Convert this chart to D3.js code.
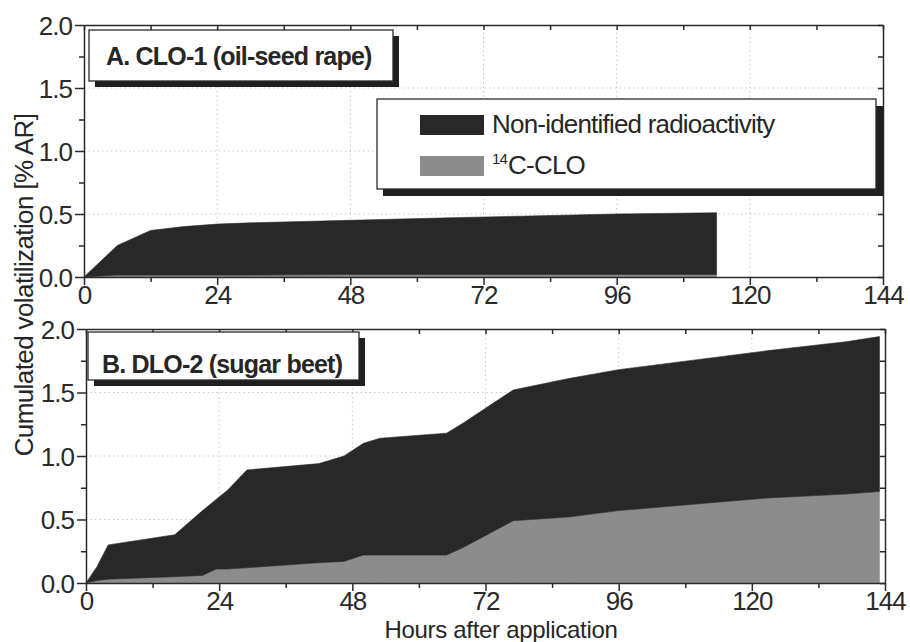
<!DOCTYPE html>
<html>
<head>
<meta charset="utf-8">
<script src="https://cdn.jsdelivr.net/npm/d3@7"></script>
<style>
  html, body { margin: 0; padding: 0; background: #fff; }
  svg { display: block; font-family: "Liberation Sans", Arial, Helvetica, sans-serif; }
</style>
</head>
<body>
<svg id="chart" width="910" height="642"></svg>
<script>
// Sampling times (hours after application) and cumulated volatilization (% AR)
const hoursA = [0, 6, 12, 18, 24, 30, 48, 66, 96, 114];
const cloA = [0, 0.015, 0.015, 0.015, 0.015, 0.015, 0.02, 0.02, 0.02, 0.02];
const nonIdA = [0, 0.235, 0.355, 0.385, 0.405, 0.415, 0.43, 0.45, 0.48, 0.49];

const hoursB = [0, 2, 4, 16, 21, 23.5, 25.5, 29, 42, 46.5, 50, 53, 65, 68, 77, 87, 96, 123, 137, 143];
const cloB = [0, 0.02, 0.03, 0.05, 0.06, 0.11, 0.11, 0.12, 0.16, 0.17, 0.22, 0.22, 0.22, 0.28, 0.49, 0.52, 0.57, 0.67, 0.70, 0.72];
const nonIdB = [0, 0.11, 0.27, 0.33, 0.51, 0.55, 0.62, 0.77, 0.78, 0.83, 0.88, 0.92, 0.96, 0.98, 1.03, 1.09, 1.11, 1.16, 1.20, 1.22];

const xTickValues = [0, 24, 48, 72, 96, 120, 144];
const xMinorValues = [12, 36, 60, 84, 108, 132];
const yTickValues = [0, 0.5, 1.0, 1.5, 2.0];
const yMinorValues = [0.25, 0.75, 1.25, 1.75];

const panelTitles = ["A. CLO-1 (oil-seed rape)", "B. DLO-2 (sugar beet)"];
const seriesKeys = ["clo", "nonId"];
const legendLabels = ["Non-identified radioactivity", "C-CLO"];
const legendSup = "14";
const xAxisTitle = "Hours after application";
const yAxisTitle = "Cumulated volatilization [% AR]";

const colors = { clo: "#8c8c8c", nonId: "#282828" };
const inkColor = "#2a2a2a";

const svg = d3.select("#chart");

const panels = [
  { hours: hoursA, clo: cloA, nonId: nonIdA, title: panelTitles[0],
    x0: 84, x1: 883, y0: 277, y1: 25,
    titleBox: { x: 89, y: 30, w: 304, h: 51, tx: 106, ty: 65 } },
  { hours: hoursB, clo: cloB, nonId: nonIdB, title: panelTitles[1],
    x0: 86, x1: 885, y0: 583, y1: 329,
    titleBox: { x: 88, y: 332, w: 271, h: 48, tx: 102, ty: 373 } }
];

const stack = d3.stack().keys(seriesKeys);

panels.forEach((p, i) => {
  const x = d3.scaleLinear().domain([0, 144]).range([p.x0, p.x1]);
  const y = d3.scaleLinear().domain([0, 2]).range([p.y0, p.y1]);
  const g = svg.append("g");

  // dotted grid at major ticks
  g.append("g").selectAll("line.gy")
    .data(yTickValues.filter(v => v > 0 && v < 2))
    .join("line")
    .attr("x1", p.x0).attr("x2", p.x1)
    .attr("y1", d => y(d)).attr("y2", d => y(d))
    .attr("stroke", "#c8c8c8").attr("stroke-width", 1).attr("stroke-dasharray", "1.5,3");
  g.append("g").selectAll("line.gx")
    .data(xTickValues.filter(v => v > 0 && v < 144))
    .join("line")
    .attr("x1", d => x(d)).attr("x2", d => x(d))
    .attr("y1", p.y0).attr("y2", p.y1)
    .attr("stroke", "#c8c8c8").attr("stroke-width", 1).attr("stroke-dasharray", "1.5,3");

  // stacked areas: labelled compound below, non-identified fraction on top
  const table = p.hours.map((h, k) => ({ hour: h, clo: p.clo[k], nonId: p.nonId[k] }));
  const layers = stack(table);
  const area = d3.area()
    .x(d => x(d.data.hour))
    .y0(d => y(d[0]))
    .y1(d => y(d[1]));
  g.append("g").selectAll("path")
    .data(layers)
    .join("path")
    .attr("d", area)
    .attr("fill", d => colors[d.key])
    .attr("stroke", d => colors[d.key])
    .attr("stroke-width", 0.6);

  // axes
  const axisStyle = sel => {
    sel.selectAll("path, line").attr("stroke", inkColor).attr("stroke-width", 1.5);
    sel.selectAll("text").attr("fill", inkColor)
      .style("font-size", "26px").style("letter-spacing", "-1px");
  };
  const xb = g.append("g").attr("transform", `translate(0,${p.y0})`)
    .call(d3.axisBottom(x).tickValues(xTickValues).tickFormat(d3.format("d"))
      .tickSizeInner(8).tickSizeOuter(0).tickPadding(4));
  axisStyle(xb);
  xb.selectAll("text").attr("dy", "0.71em").attr("y", 9);
  const xbm = g.append("g").attr("transform", `translate(0,${p.y0})`)
    .call(d3.axisBottom(x).tickValues(xMinorValues).tickFormat("").tickSize(5));
  axisStyle(xbm); xbm.select("path").remove();

  const yl = g.append("g").attr("transform", `translate(${p.x0},0)`)
    .call(d3.axisLeft(y).tickValues(yTickValues).tickFormat(d3.format(".1f"))
      .tickSizeInner(9).tickSizeOuter(0).tickPadding(3));
  axisStyle(yl);
  yl.selectAll("text").attr("dy", "0.36em");
  const ylm = g.append("g").attr("transform", `translate(${p.x0},0)`)
    .call(d3.axisLeft(y).tickValues(yMinorValues).tickFormat("").tickSize(5));
  axisStyle(ylm); ylm.select("path").remove();

  // mirrored axes with inward ticks
  const xt = g.append("g").attr("transform", `translate(0,${p.y1})`)
    .call(d3.axisBottom(x).tickValues(xTickValues.concat(xMinorValues)).tickFormat("")
      .tickSizeInner(5).tickSizeOuter(0));
  axisStyle(xt);
  const yr = g.append("g").attr("transform", `translate(${p.x1},0)`)
    .call(d3.axisLeft(y).tickValues(yTickValues.concat(yMinorValues)).tickFormat("")
      .tickSizeInner(5).tickSizeOuter(0));
  axisStyle(yr);

  // panel title box with drop shadow
  const tb = p.titleBox;
  g.append("rect").attr("x", tb.x + 6).attr("y", tb.y + 6).attr("width", tb.w).attr("height", tb.h)
    .attr("fill", "#1f1f1f");
  g.append("rect").attr("x", tb.x).attr("y", tb.y).attr("width", tb.w).attr("height", tb.h)
    .attr("fill", "#fff").attr("stroke", inkColor).attr("stroke-width", 1.3);
  g.append("text").attr("x", tb.tx).attr("y", tb.ty)
    .attr("fill", "#262626").style("font-size", "25px").style("font-weight", "bold")
    .style("letter-spacing", "-0.8px")
    .text(p.title);

  // legend in the first panel
  if (i === 0) {
    const lg = g.append("g");
    lg.append("rect").attr("x", 383).attr("y", 106).attr("width", 500).attr("height", 90)
      .attr("fill", "#1f1f1f");
    lg.append("rect").attr("x", 377).attr("y", 99).attr("width", 499).attr("height", 90)
      .attr("fill", "#fff").attr("stroke", inkColor).attr("stroke-width", 1.3);
    const items = [
      { key: "nonId", label: legendLabels[0], y: 115 },
      { key: "clo", label: legendLabels[1], y: 156 }
    ];
    items.forEach(it => {
      lg.append("rect").attr("x", 420).attr("y", it.y).attr("width", 64).attr("height", 20)
        .attr("fill", colors[it.key]);
      const t = lg.append("text").attr("x", 492).attr("y", it.y + 18)
        .attr("fill", "#262626").style("font-size", "26px").style("letter-spacing", "-0.8px");
      if (it.key === "clo") {
        t.append("tspan").text(legendSup).style("font-size", "15px").attr("dy", "-10");
        t.append("tspan").text(it.label).attr("dy", "10").attr("dx", "1");
      } else {
        t.text(it.label);
      }
    });
  }
});

// shared axis titles
svg.append("text")
  .attr("transform", "translate(33,285) rotate(-90)")
  .attr("text-anchor", "middle")
  .attr("fill", "#262626").style("font-size", "26px").style("letter-spacing", "-0.6px")
  .text(yAxisTitle);
svg.append("text")
  .attr("x", 501).attr("y", 637.5)
  .attr("text-anchor", "middle")
  .attr("fill", "#262626").style("font-size", "24px").style("letter-spacing", "-0.3px")
  .text(xAxisTitle);
</script>
</body>
</html>
